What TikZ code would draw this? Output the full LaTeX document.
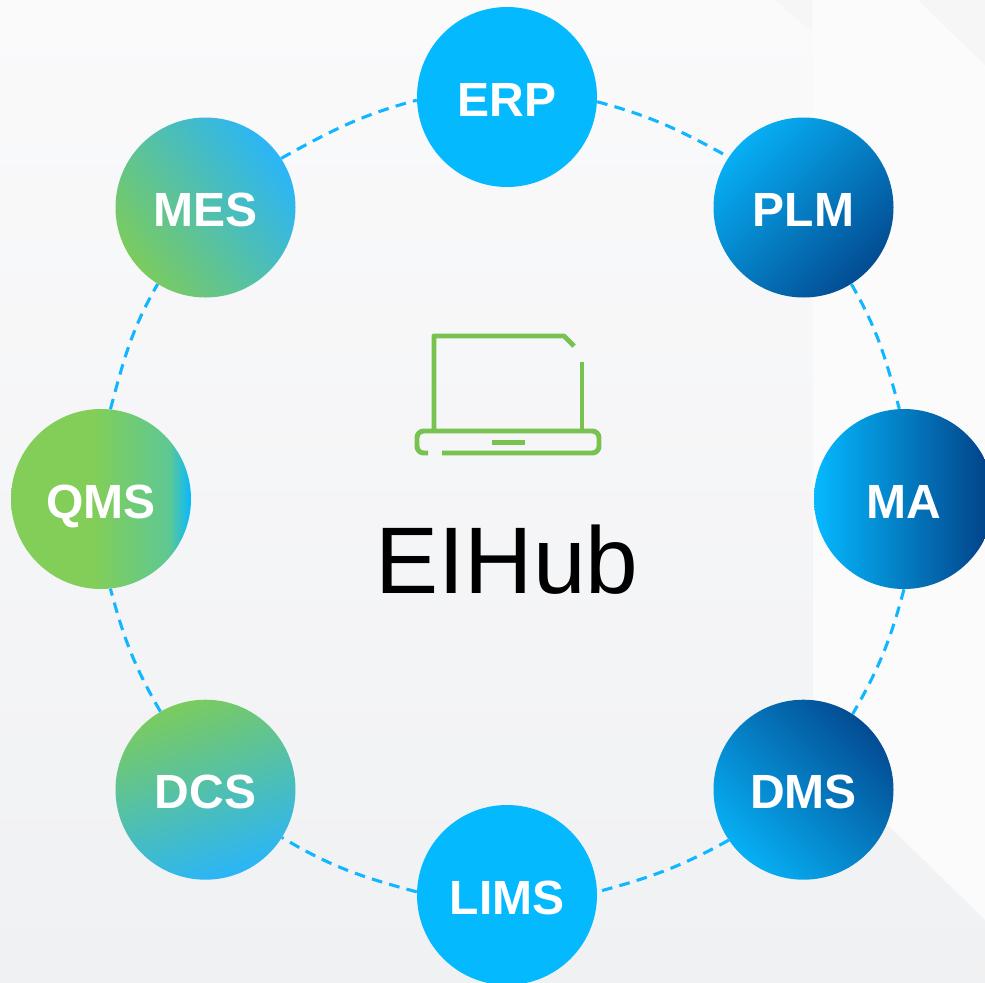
\documentclass[tikz,border=0pt]{standalone}
\usepackage{fontspec}
\setmainfont{Liberation Sans}
\definecolor{sky}{HTML}{05B9FF}
\definecolor{skyd}{HTML}{07AFF4}
\definecolor{navy}{HTML}{023F85}
\definecolor{navyd}{HTML}{034C92}
\definecolor{midblue}{HTML}{0580C8}
\definecolor{leaf}{HTML}{82CE58}
\definecolor{leafb}{HTML}{7BCB5E}
\definecolor{azure}{HTML}{2AB5F8}
\definecolor{teal2}{HTML}{68C2AC}
\definecolor{tealq}{HTML}{5EC893}
\definecolor{iconG}{HTML}{78C250}
\definecolor{dashC}{HTML}{10B6FF}
\definecolor{bgtop}{HTML}{FAFAFB}
\definecolor{bgbot}{HTML}{F0F1F3}
\definecolor{bglight}{HTML}{FBFBFC}
\definecolor{facetA}{HTML}{F6F6F7}
\definecolor{facetB}{HTML}{F1F1F2}
\pgfdeclarehorizontalshading{qmsfade}{100bp}{color(0bp)=(leaf); color(48bp)=(leaf); color(69bp)=(tealq); color(75bp)=(sky); color(100bp)=(sky)}
\tikzset{
  x=0.75pt,y=-0.75pt,
  hub/.style={circle,minimum size=135pt,inner sep=0pt,text=white,text height=28.8pt,text depth=0pt,font=\bfseries\fontsize{36}{40}\selectfont},
  flat/.style={hub,fill=sky},
  bluegrad/.style={hub,left color=skyd,middle color=midblue,right color=navyd,shading angle=#1},
  greengrad/.style={hub,left color=leafb,middle color=teal2,right color=azure,shading angle=#1},
  link/.style={draw=dashC,line width=2.3pt,dash pattern=on 8pt off 5.5pt},
  icon/.style={draw=iconG,line width=3.7pt}
}
\begin{document}
\begin{tikzpicture}
\useasboundingbox (0,0) rectangle (985,982);
\clip (0,0) rectangle (985,982);
% background
\shade[top color=bgtop,bottom color=bgbot] (0,0) rectangle (985,982);
\fill[bglight] (813,0) -- (985,0) -- (985,920) -- (890,827) -- (813,740) -- cycle;
\fill[facetA] (918,0) -- (985,0) -- (985,65) -- cycle;
\fill[facetA] (775,0) -- (812,0) -- (812,32) -- cycle;
\fill[facetB] (965,982) -- (985,965) -- (985,982) -- cycle;
% circles
\node[flat] (erp) at (507,97) {ERP};
\node[bluegrad=45] (plm) at (803.5,207.5) {PLM};
\node[hub,left color=sky,middle color=midblue,right color=navy,shading angle=90] (ma) at (904,499) {MA};
\node[bluegrad=135] (dms) at (803.5,789.7) {DMS};
\node[flat] (lims) at (507,895) {LIMS};
\node[greengrad=20] (dcs) at (205.5,789.7) {DCS};
\node[hub,shade,shading=qmsfade,shading angle=0] (qms) at (101,499) {QMS};
\node[greengrad=125] (mes) at (205.5,207.5) {MES};
% connectors
\draw[link] (erp.-3) to[out=-15,in=151] (plm.146);
\draw[link] (plm.-58) to[out=-60,in=105] (ma.93);
\draw[link] (ma.-90) to[out=-105,in=60] (dms.57);
\draw[link] (dms.-146) to[out=-151,in=15] (lims.2);
\draw[link] (lims.178) to[out=165,in=-31] (dcs.-32);
\draw[link] (dcs.120) to[out=120,in=-75] (qms.-84);
\draw[link] (qms.84) to[out=75,in=-120] (mes.-122);
\draw[link] (mes.33) to[out=29,in=-165] (erp.182);
% laptop icon
\coordinate (scrA) at (434,431);
\coordinate (scrB) at (434,336);
\coordinate (scrC) at (564,336);
\coordinate (scrD) at (574,346);
\coordinate (scrE) at (582,362);
\coordinate (scrF) at (582,431);
\draw[icon,line join=round] (scrA) -- (scrB) -- (scrC) -- (scrD);
\draw[icon] (scrE) -- (scrF);
\coordinate (bsA) at (428,453);
\coordinate (bsB) at (417,431);
\coordinate (bsC) at (599,453);
\coordinate (bsD) at (442,453);
\draw[icon,rounded corners=5pt] (bsA) -| (bsB) -| (bsC) -- (bsD);
\coordinate (barA) at (492,442.5);
\coordinate (barB) at (525,442.5);
\draw[icon] (barA) -- (barB);
\node[text=black,font=\fontsize{71}{84}\selectfont] (title) at (507,560) {EIHub};
\end{tikzpicture}
\end{document}
